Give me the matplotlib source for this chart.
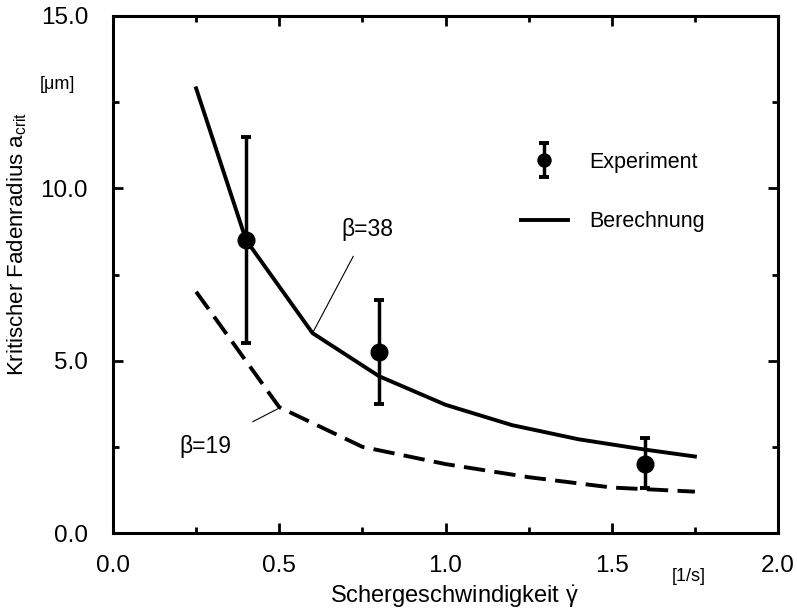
import numpy as np
import matplotlib
matplotlib.use('Agg')
import matplotlib.pyplot as plt
from matplotlib.lines import Line2D
from matplotlib.legend_handler import HandlerErrorbar
from matplotlib.ticker import MultipleLocator, FormatStrFormatter

plt.rcParams['font.family'] = ['Liberation Sans', 'DejaVu Sans']
plt.rcParams['mathtext.fontset'] = 'custom'
plt.rcParams['mathtext.rm'] = 'Liberation Sans'
plt.rcParams['mathtext.it'] = 'Liberation Sans'

# calculated curves (beta=38 solid, beta=19 dashed)
x_calc38 = [0.25, 0.4, 0.6, 0.8, 1.0, 1.2, 1.4, 1.6, 1.75]
y_calc38 = [12.9, 8.5, 5.8, 4.55, 3.72, 3.13, 2.72, 2.42, 2.22]
x_calc19 = [0.25, 0.5, 0.75, 1.0, 1.25, 1.5, 1.75]
y_calc19 = [7.0, 3.65, 2.5, 2.0, 1.62, 1.32, 1.2]

# experiment with error bars
x_exp = [0.4, 0.8, 1.6]
y_exp = [8.5, 5.25, 2.0]
y_low = [5.5, 3.75, 1.3]
y_high = [11.5, 6.75, 2.75]

fig = plt.figure(figsize=(7.97, 6.10), dpi=100)
ax = fig.add_axes([0.1418, 0.1262, 0.8344, 0.8476])

lw = 2.8
ax.plot(x_calc38, y_calc38, color='black', lw=lw, solid_joinstyle='miter')
ax.plot(x_calc19, y_calc19, color='black', lw=lw, dashes=(5.5, 2.4))

yerr = [np.array(y_exp) - np.array(y_low), np.array(y_high) - np.array(y_exp)]
eb = ax.errorbar(x_exp, y_exp, yerr=yerr, fmt='o', color='black', ms=12,
                 elinewidth=2.5, capsize=3.8, capthick=2.8)

# annotations
ax.annotate('\u03b2=38', xy=(0.6, 5.8), xytext=(0.765, 8.8), fontsize=16.5,
            ha='center', va='center',
            arrowprops=dict(arrowstyle='-', lw=0.8, color='black',
                            shrinkA=10, shrinkB=0))
ax.annotate('\u03b2=19', xy=(0.505, 3.65), xytext=(0.277, 2.52), fontsize=16.5,
            ha='center', va='center',
            arrowprops=dict(arrowstyle='-', lw=0.8, color='black',
                            shrinkA=16, shrinkB=0))

leg_line = Line2D([], [], color='black', lw=lw)
ax.legend([eb, leg_line], ['Experiment', 'Berechnung'], loc='upper left',
          bbox_to_anchor=(0.584, 0.775), frameon=False, fontsize=15.5,
          handlelength=2.2, handletextpad=1.0, labelspacing=1.8,
          markerscale=0.78,
          handler_map={type(eb): HandlerErrorbar(yerr_size=0.8)})

ax.set_xlim(0, 2.0)
ax.set_ylim(0, 15.0)
ax.xaxis.set_major_locator(MultipleLocator(0.5))
ax.xaxis.set_minor_locator(MultipleLocator(0.25))
ax.yaxis.set_major_locator(MultipleLocator(5.0))
ax.yaxis.set_minor_locator(MultipleLocator(2.5))
ax.xaxis.set_major_formatter(FormatStrFormatter('%.1f'))
ax.yaxis.set_major_formatter(FormatStrFormatter('%.1f'))
ax.tick_params(which='both', direction='in', top=True, right=True, width=2)
ax.tick_params(which='major', length=7, labelsize=17.5)
ax.tick_params(which='minor', length=4)
ax.tick_params(axis='x', which='major', pad=16)
ax.tick_params(axis='y', which='major', pad=18)
for sp in ax.spines.values():
    sp.set_linewidth(2.2)

ax.set_xlabel('Schergeschwindigkeit $\\dot{\\gamma}$', fontsize=17)
ax.xaxis.set_label_coords(0.514, -0.098)
ax.set_ylabel('Kritischer Fadenradius a$_{\\rm crit}$', fontsize=16)
ax.yaxis.set_label_coords(-0.127, 0.56)
ax.text(-0.083, 0.868, '[\u03bcm]', transform=ax.transAxes, fontsize=13,
        ha='center', va='center')
ax.text(0.865, -0.085, '[1/s]', transform=ax.transAxes, fontsize=13,
        ha='center', va='center')

fig.savefig('out.png', dpi=100)
